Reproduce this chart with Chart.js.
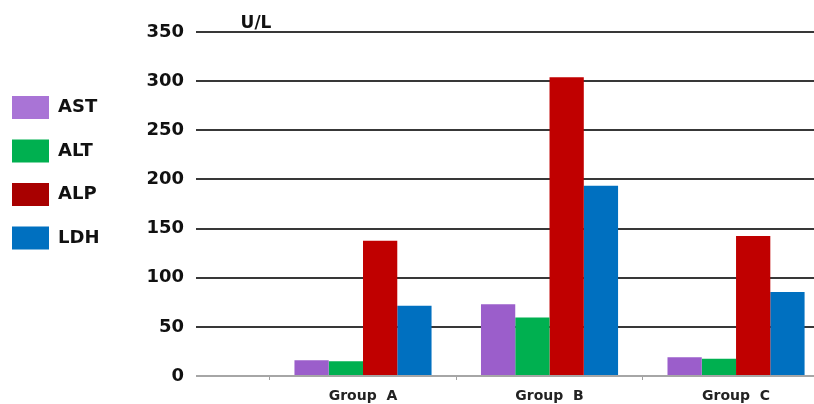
<!DOCTYPE html>
<html>
<head>
<meta charset="utf-8">
<script src="https://cdn.jsdelivr.net/npm/chart.js@4/dist/chart.umd.min.js"></script>
<style>
  html, body { margin: 0; padding: 0; background: #fff; overflow: hidden; }
  #wrap { position: relative; width: 814px; height: 404px; }
</style>
</head>
<body>
<div id="wrap"><canvas id="c"></canvas></div>
<script>
const categories = ['Group  A', 'Group  B', 'Group  C'];
const seriesNames = ['AST', 'ALT', 'ALP', 'LDH'];
const astValues = [16, 73, 19];
const altValues = [15, 59.5, 17.5];
const alpValues = [137.5, 304, 142.5];
const ldhValues = [71.5, 193.5, 85.5];
const yTicks = [0, 50, 100, 150, 200, 250, 300, 350];
const unitLabel = 'U/L';

const colors = ['#9b5ecb', '#00b050', '#c00000', '#0070c0'];
const legendColors = ['#a974d6', '#00b050', '#a80000', '#0070c0'];
const allValues = [astValues, altValues, alpValues, ldhValues];

const datasets = seriesNames.map((name, k) => ({
  label: name,
  data: allValues[k].map((v, i) => ({ x: i + 1, y: v })),
  backgroundColor: colors[k],
  borderWidth: 0,
  categoryPercentage: 0.735,
  barPercentage: 1.0
}));

const unitPlugin = {
  id: 'unitLabel',
  afterDraw(chart) {
    const { ctx, chartArea } = chart;
    ctx.save();
    ctx.font = 'bold 17px "DejaVu Sans"';
    ctx.fillStyle = '#111';
    ctx.textAlign = 'center';
    ctx.textBaseline = 'middle';
    ctx.fillText(unitLabel, chartArea.left + 60, chartArea.top - 8);
    ctx.restore();
  }
};

new Chart(document.getElementById('c'), {
  type: 'bar',
  data: { datasets },
  plugins: [unitPlugin],
  options: {
    responsive: true,
    maintainAspectRatio: false,
    animation: false,
    layout: { padding: { top: 32, left: -8.5, right: 0, bottom: 0 } },
    plugins: {
      tooltip: { enabled: false },
      legend: {
        position: 'left',
        align: 'start',
        maxWidth: 110,
        title: { display: true, text: '', font: { size: 10 }, padding: { top: 31.5, bottom: 0 } },
        labels: {
          boxWidth: 37,
          boxHeight: 23,
          padding: 20.5,
          color: '#111',
          font: { family: '"DejaVu Sans"', size: 18, weight: 'bold' },
          generateLabels: chart => chart.data.datasets.map((ds, k) => ({
            text: ds.label,
            fillStyle: legendColors[k],
            strokeStyle: legendColors[k],
            lineWidth: 0,
            hidden: false,
            datasetIndex: k,
            fontColor: '#111'
          }))
        }
      }
    },
    scales: {
      x: {
        type: 'linear',
        offset: false,
        min: 0.1046,
        max: 3.418,
        afterBuildTicks: s => { s.ticks = categories.map((c, i) => ({ value: i + 1 })); },
        afterFit: s => { s.height = 28; },
        grid: { offset: true, drawOnChartArea: false, drawTicks: true, tickLength: 4, color: '#a0a0a0' },
        border: { display: false },
        ticks: {
          autoSkip: false,
          maxRotation: 0,
          padding: 8,
          color: '#222',
          font: { family: '"DejaVu Sans"', size: 14, weight: 'bold' },
          callback: (v, i) => categories[i]
        }
      },
      y: {
        min: 0,
        max: 350,
        afterBuildTicks: s => { s.ticks = yTicks.map(v => ({ value: v })); },
        afterFit: s => { s.width = 94.5; },
        border: { display: false },
        grid: {
          drawTicks: false,
          lineWidth: 2,
          color: c => (c.tick && c.tick.value === 0) ? '#a6a6a6' : '#383838'
        },
        ticks: {
          padding: 12,
          color: '#111',
          font: { family: '"DejaVu Sans"', size: 18, weight: 'bold' }
        }
      }
    }
  }
});
</script>
</body>
</html>
